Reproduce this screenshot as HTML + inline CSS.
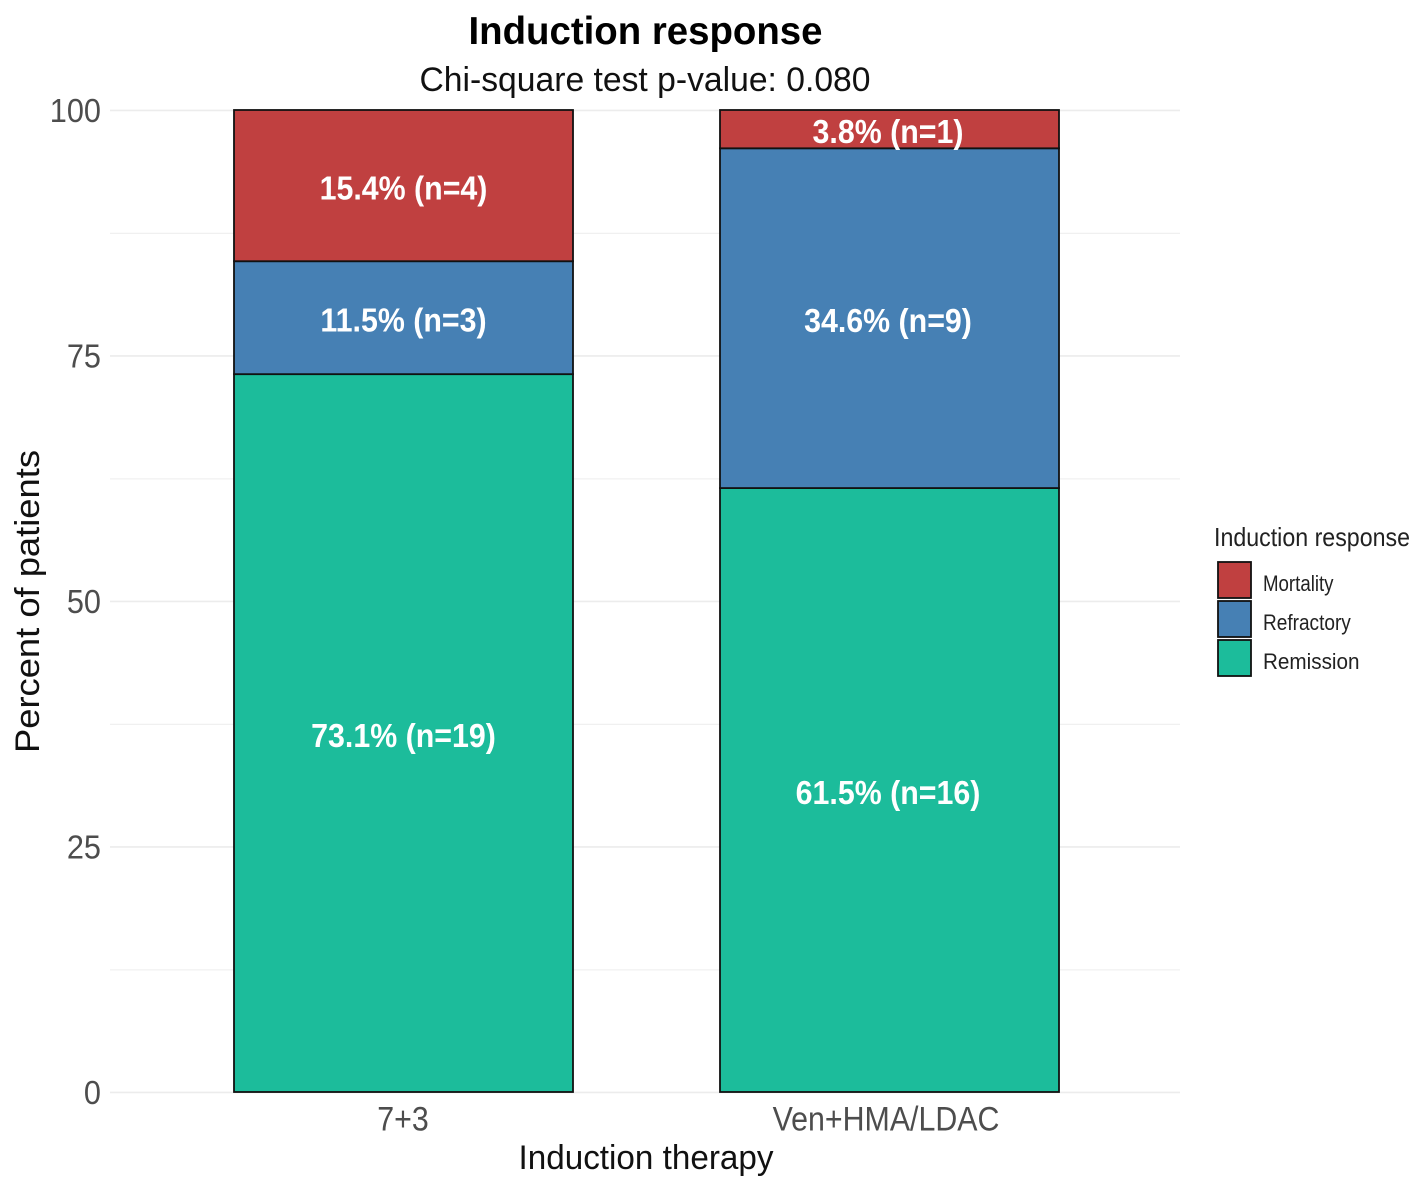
<!DOCTYPE html>
<html>
<head>
<meta charset="utf-8">
<title>Induction response</title>
<style>
html,body{margin:0;padding:0;background:#fff;width:1417px;height:1188px;overflow:hidden}
svg{display:block;filter:blur(0.35px)}
text{font-family:"Liberation Sans",sans-serif}
</style>
</head>
<body>
<svg id="chart" xmlns="http://www.w3.org/2000/svg" width="1417" height="1188" viewBox="0 0 1417 1188">
  <text x="645.5" y="44" text-anchor="middle" font-size="39" font-weight="bold" fill="#000" textLength="354" lengthAdjust="spacingAndGlyphs">Induction response</text>
  <text x="645" y="91" text-anchor="middle" font-size="34" fill="#111" textLength="451" lengthAdjust="spacingAndGlyphs">Chi-square test p-value: 0.080</text>
  <text transform="translate(39,601.5) rotate(-90)" text-anchor="middle" font-size="34" fill="#111" textLength="303" lengthAdjust="spacingAndGlyphs">Percent of patients</text>
  <text x="646" y="1169" text-anchor="middle" font-size="34" fill="#111" textLength="255" lengthAdjust="spacingAndGlyphs">Induction therapy</text>
  <g id="grid"></g>
  <g id="ylabels"></g>
  <g id="bars"></g>
  <g id="xlabels"></g>
  <g id="legend">
    <text x="1214" y="546" font-size="26" fill="#222" textLength="196" lengthAdjust="spacingAndGlyphs">Induction response</text>
  </g>
</svg>
<script>
var categories = ["7+3", "Ven+HMA/LDAC"];
var seriesNames = ["Remission", "Refractory", "Mortality"];
var remissionValues = [73.1, 61.5];
var refractoryValues = [11.5, 34.6];
var mortalityValues = [15.4, 3.8];
var remissionCounts = [19, 16];
var refractoryCounts = [3, 9];
var mortalityCounts = [4, 1];
var yTicks = [0, 25, 50, 75, 100];
var yMinorTicks = [12.5, 37.5, 62.5, 87.5];
var legendOrder = ["Mortality", "Refractory", "Remission"];

var NS = "http://www.w3.org/2000/svg";
var seriesValues = [remissionValues, refractoryValues, mortalityValues];
var seriesCounts = [remissionCounts, refractoryCounts, mortalityCounts];
var seriesColors = {Remission: "#1cbc9b", Refractory: "#4680b4", Mortality: "#c04040"};
var legendTextScale = {Mortality: 0.849, Refractory: 0.866, Remission: 0.94};

function yScale(v) { return 1092 - v * 9.82; }
function xCenter(i) { return 403.5 + i * 486; }
var barWidth = 339;

function make(tag, attrs, parent, txt) {
  var el = document.createElementNS(NS, tag);
  for (var k in attrs) el.setAttribute(k, attrs[k]);
  if (txt !== undefined) el.textContent = txt;
  parent.appendChild(el);
  return el;
}

function place(x, y, sx) { return "translate(" + x + "," + y + ") scale(" + sx + ",1)"; }

var grid = document.getElementById("grid");
yTicks.forEach(function (t) {
  var l = make("line", {x1: 110, x2: 1180, y1: yScale(t) + 0.4, y2: yScale(t) + 0.4, stroke: "#ececec", "stroke-width": 1.6}, grid);
  
  
});
yMinorTicks.forEach(function (t) {
  var l = make("line", {x1: 110, x2: 1180, y1: yScale(t) + 0.6, y2: yScale(t) + 0.6, stroke: "#f0f0f0", "stroke-width": 1.3}, grid);
  
  
});

var ylabels = document.getElementById("ylabels");
yTicks.forEach(function (t) {
  var s = make("text", {transform: place(101, yScale(t) + 12, 0.93), "text-anchor": "end", "font-size": 33, fill: "#4d4d4d"}, ylabels, String(t));
  
  
});

var bars = document.getElementById("bars");
var labelQueue = [];
categories.forEach(function (cat, i) {
  var cum = 0;
  seriesNames.forEach(function (name, j) {
    var v = seriesValues[j][i];
    var top = cum + v;
    if (j === seriesNames.length - 1) top = 100;
    var y0 = yScale(top), y1 = yScale(cum);
    var r = make("rect", {x: xCenter(i) - barWidth / 2, y: y0, width: barWidth, height: y1 - y0, fill: seriesColors[name], stroke: "#111", "stroke-width": 1.8}, bars);
    
    
    labelQueue.push({x: xCenter(i) + (i ? -1.5 : 0), y: (y0 + y1) / 2 + 14, t: v.toFixed(1) + "% (n=" + seriesCounts[j][i] + ")"});
    cum = top;
  });
});
labelQueue.forEach(function (q) {
  var s = make("text", {transform: place(q.x, q.y, 0.92), "text-anchor": "middle", "font-size": 33, "font-weight": "bold", fill: "#fff"}, bars, q.t);
  
  
});

var xlabels = document.getElementById("xlabels");
categories.forEach(function (c, i) {
  var s = make("text", {transform: place(xCenter(i) - 0.5 + (i ? -3 : 0), 1130.5, 0.893), "text-anchor": "middle", "font-size": 34, fill: "#4d4d4d"}, xlabels, c);
  
  
});

var legend = document.getElementById("legend");
legendOrder.forEach(function (name, i) {
  var y = 562 + i * 39;
  var r = make("rect", {x: 1218, y: y, width: 33, height: 36, fill: seriesColors[name], stroke: "#111", "stroke-width": 1.8}, legend);
  
  
  var s = make("text", {transform: place(1263, y + 29, legendTextScale[name]), "font-size": 22, fill: "#222"}, legend, name);
  
  
});
</script>
</body>
</html>
